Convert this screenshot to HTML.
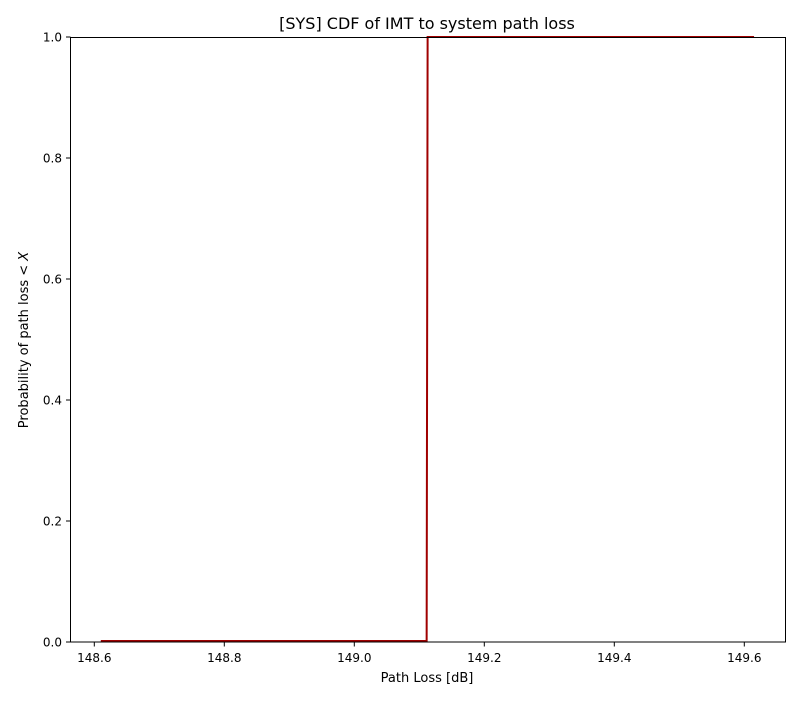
<!DOCTYPE html>
<html><head><meta charset="utf-8"><style>
body{margin:0;background:#fff;font-family:"Liberation Sans","DejaVu Sans",sans-serif}
svg text{font-family:"DejaVu Sans","Liberation Sans",sans-serif}
</style></head><body>
<svg id="c" width="800" height="700" viewBox="0 0 800 700">
<rect width="800" height="700" fill="#fff"/>
<text x="427" y="29" font-size="16" text-anchor="middle">[SYS] CDF of IMT to system path loss</text>
<g id="ticks"></g>
<path id="line" fill="none" stroke="#a00000" stroke-width="2"/>
<rect x="70.5" y="37.5" width="715" height="604.5" fill="none" stroke="#000" stroke-width="1"/>
<text x="427" y="682" font-size="13" text-anchor="middle">Path Loss [dB]</text>
<text transform="translate(28,340) rotate(-90)" font-size="13" text-anchor="middle">Probability of path loss &lt; <tspan font-style="italic">X</tspan></text>
</svg>
<script>
const xs=[148.61,149.1113,149.1128,149.615];
const ys=[0,0,1,1];
const xTicks=[148.6,148.8,149.0,149.2,149.4,149.6];
const xTickLabels=["148.6","148.8","149.0","149.2","149.4","149.6"];
const yTicks=[0,0.2,0.4,0.6,0.8,1.0];
const yTickLabels=["0.0","0.2","0.4","0.6","0.8","1.0"];
const X=v=>94.3+(v-148.6)*650;
const Y=v=>642-v*605;
const NS="http://www.w3.org/2000/svg";
const g=document.getElementById('ticks');
function mk(t,a){const e=document.createElementNS(NS,t);for(const k in a)e.setAttribute(k,a[k]);return e;}
xTicks.forEach((v,i)=>{
 const l=mk('line',{x1:X(v),x2:X(v),y1:642,y2:646.5,stroke:'#000'});
 
 
 g.appendChild(l);
 const t=mk('text',{x:X(v),y:662,'font-size':12,'text-anchor':'middle'});
 
 
 t.textContent=xTickLabels[i];g.appendChild(t);
});
yTicks.forEach((v,i)=>{
 const l=mk('line',{x1:66,x2:70.5,y1:Y(v),y2:Y(v),stroke:'#000'});
 
 
 g.appendChild(l);
 const t=mk('text',{x:62,y:Y(v)+4.5,'font-size':12,'text-anchor':'end'});
 
 
 t.textContent=yTickLabels[i];g.appendChild(t);
});
document.getElementById('line').setAttribute('d',xs.map((v,i)=>(i?'L':'M')+X(v)+','+Math.min(Y(ys[i]),641)).join(''));
</script>
</body></html>
